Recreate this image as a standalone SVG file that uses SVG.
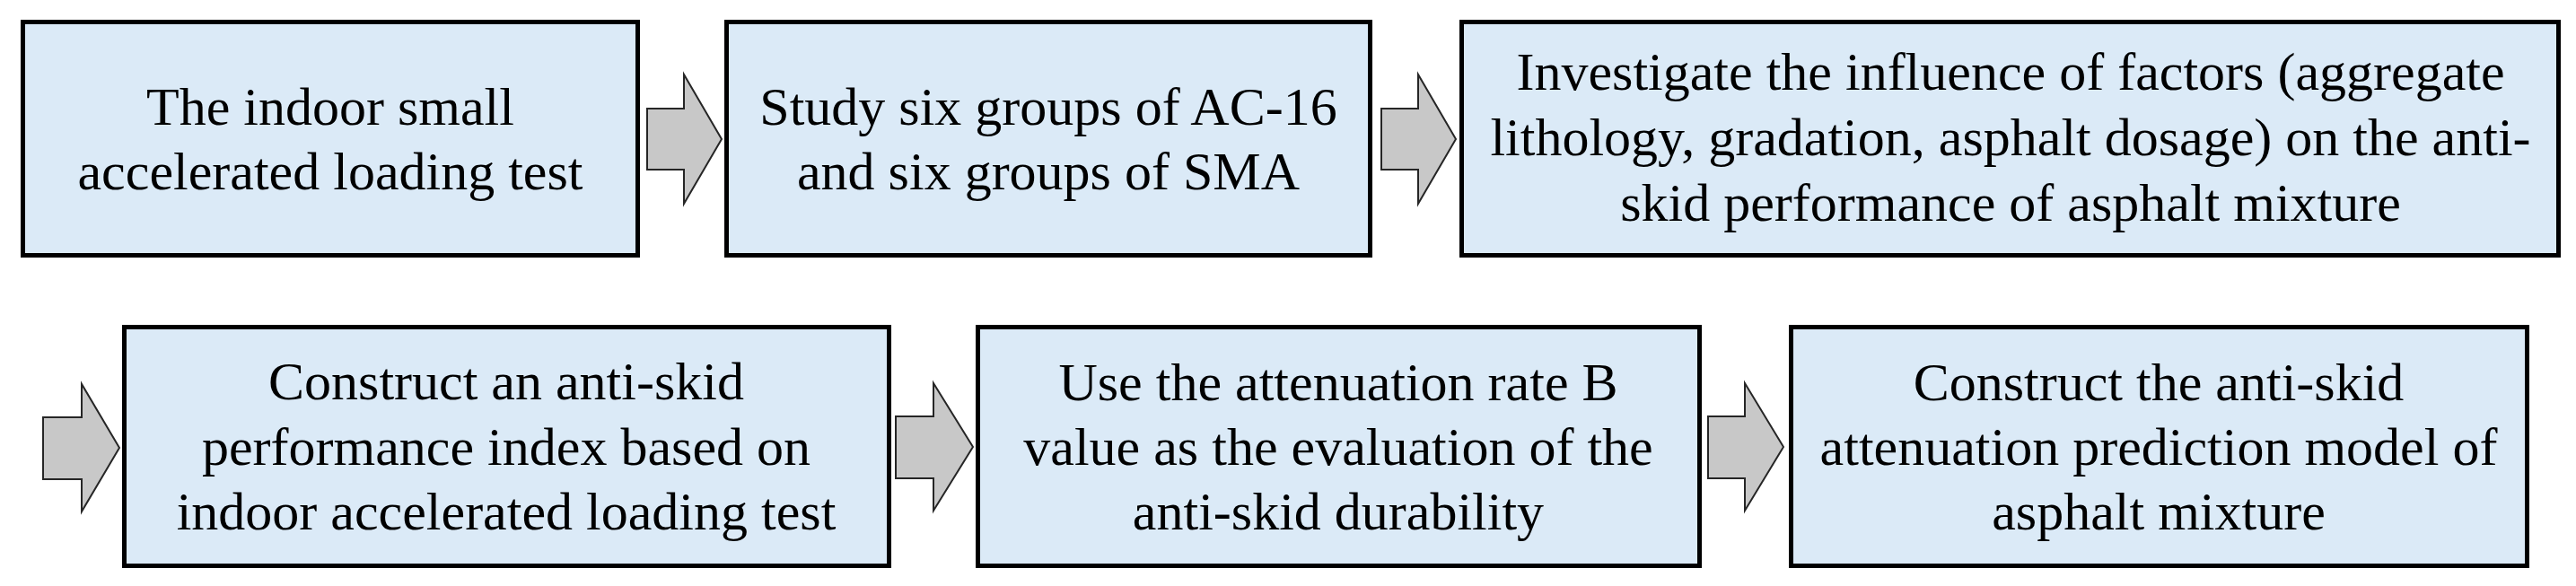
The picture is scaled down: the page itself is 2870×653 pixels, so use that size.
<svg xmlns="http://www.w3.org/2000/svg" width="2870" height="653" viewBox="0 0 2870 653">
<style>
.box{fill:#dbeaf7;stroke:#000;stroke-width:5}
.arr{fill:#c8c8c8;stroke:#262626;stroke-width:2;stroke-linejoin:miter}
text{font-family:"Liberation Serif","Times New Roman",serif;font-size:60px;fill:#000;text-anchor:middle}
</style>
<rect width="2870" height="653" fill="#fff"/>
<g id="connectors">
<path class="arr" d="M721,121 H762 V83 L804,155 L762,227 V189 H721 Z"/>
<path class="arr" d="M1539,121 H1580 V83 L1622,155 L1580,227 V189 H1539 Z"/>
<path class="arr" d="M48,465 H91 V428 L133,499 L91,570 V534 H48 Z"/>
<path class="arr" d="M998,464 H1040 V427 L1084,498 L1040,569 V533 H998 Z"/>
<path class="arr" d="M1903,464 H1944 V427 L1987,498 L1944,569 V533 H1903 Z"/>
</g>
<g id="n1">
<rect class="box" x="25.5" y="24.5" width="685" height="260"/>
<text x="368" y="139">The indoor small</text>
<text x="368" y="211">accelerated loading test</text>
</g>
<g id="n2">
<rect class="box" x="809.5" y="24.5" width="717" height="260"/>
<text x="1168" y="139">Study six groups of AC-16</text>
<text x="1168" y="211">and six groups of SMA</text>
</g>
<g id="n3">
<rect class="box" x="1628.5" y="24.5" width="1222" height="260"/>
<text x="2240" y="100">Investigate the influence of factors (aggregate</text>
<text x="2240" y="173">lithology, gradation, asphalt dosage) on the anti-</text>
<text x="2240" y="246">skid performance of asphalt mixture</text>
</g>
<g id="n4">
<rect class="box" x="138.5" y="364.5" width="852" height="266"/>
<text x="564" y="445">Construct an anti-skid</text>
<text x="564" y="518">performance index based on</text>
<text x="564" y="590">indoor accelerated loading test</text>
</g>
<g id="n5">
<rect class="box" x="1089.5" y="364.5" width="804" height="266"/>
<text x="1491" y="446">Use the attenuation rate B</text>
<text x="1491" y="518">value as the evaluation of the</text>
<text x="1491" y="590">anti-skid durability</text>
</g>
<g id="n6">
<rect class="box" x="1995.5" y="364.5" width="820" height="266"/>
<text x="2405" y="446">Construct the anti-skid</text>
<text x="2405" y="518">attenuation prediction model of</text>
<text x="2405" y="590">asphalt mixture</text>
</g>
</svg>
